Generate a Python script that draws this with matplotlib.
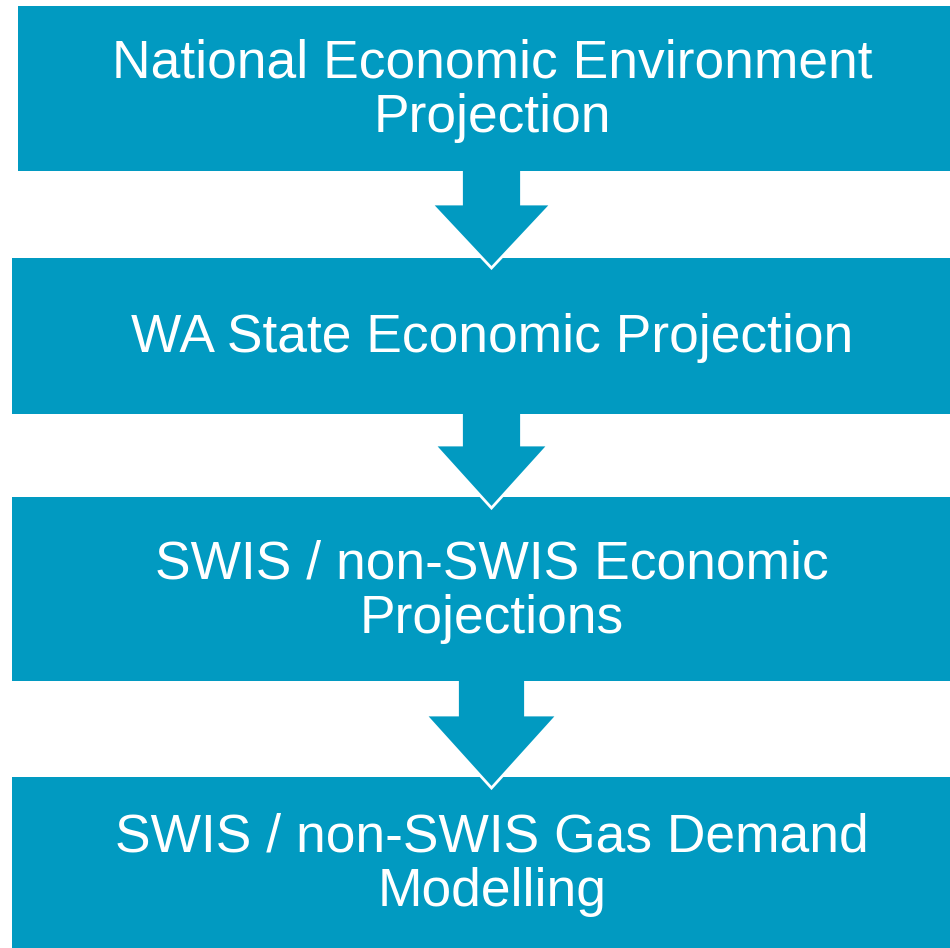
import matplotlib.pyplot as plt
from matplotlib.patches import Rectangle, Polygon

# Flow steps, top to bottom
labels = ['National Economic Environment\nProjection',
          'WA State Economic Projection',
          'SWIS / non-SWIS Economic\nProjections',
          'SWIS / non-SWIS Gas Demand\nModelling']

BLUE = '#019AC1'

# box extents in pixels (x0, x1, y_top, y_bottom)
boxes = [(18, 960, 6, 171),
         (12, 960, 258, 414),
         (12, 960, 497, 681),
         (12, 960, 777, 960)]
# vertical centre of each label
text_y = [91, 338, 592, 865]

# arrows: shaft half width, head half width, head top, tip
arrows = [(30, 60, 204, 268),
          (30, 57, 445, 508),
          (34, 66, 715, 788)]
x_mid = 491.5

fig = plt.figure(figsize=(9.5, 9.48), dpi=100)
ax = fig.add_axes([0, 0, 1, 1])
ax.set_xlim(0, 950)
ax.set_ylim(948, 0)
ax.axis('off')

for i, (x0, x1, yt, yb) in enumerate(boxes):
    z = 20 - 2 * i
    ax.add_patch(Rectangle((x0, yt), x1 - x0, yb - yt, facecolor=BLUE,
                           edgecolor='none', zorder=z))
    ax.text(492, text_y[i], labels[i],
            ha='center', va='center', color='white', fontsize=38.4,
            family='Liberation Sans', linespacing=1.11, zorder=z + 0.5)

for i, (sw, hw, yh, tip) in enumerate(arrows):
    ystart = boxes[i][3] - 6
    pts = [(x_mid - sw, ystart), (x_mid - sw, yh), (x_mid - hw, yh),
           (x_mid, tip), (x_mid + hw, yh), (x_mid + sw, yh),
           (x_mid + sw, ystart)]
    ax.add_patch(Polygon(pts, closed=True, facecolor=BLUE, edgecolor='white',
                         linewidth=2.0, joinstyle='miter', zorder=19 - 2 * i))

fig.savefig('out.png', dpi=100)
